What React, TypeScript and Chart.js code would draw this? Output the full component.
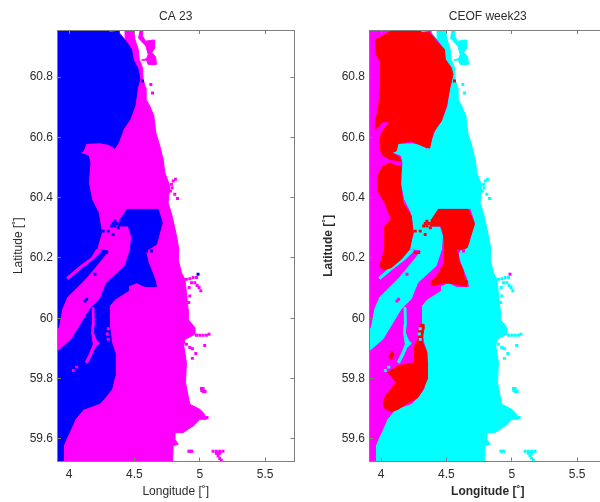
import React, { useEffect, useRef } from "react";
import { Chart, registerables } from "chart.js";

Chart.register(...registerables);

type P = number[];

const xTicks = [4, 4.5, 5, 5.5];
const yTicks = [59.6, 59.8, 60, 60.2, 60.4, 60.6, 60.8];
const lonRange = [3.908, 5.725];
const latRange = [59.525, 60.956];

const coast: P[] = [[3.9,60.96],[4.384,60.96],[4.384,60.947],[4.43,60.923],[4.428,60.96],[4.491,60.96],[4.504,60.925],[4.529,60.892],[4.537,60.859],[4.562,60.831],[4.567,60.792],[4.585,60.765],[4.588,60.726],[4.618,60.704],[4.649,60.671],[4.664,60.615],[4.695,60.571],[4.72,60.527],[4.733,60.483],[4.771,60.439],[4.758,60.383],[4.789,60.339],[4.822,60.273],[4.84,60.229],[4.835,60.196],[4.86,60.151],[4.886,60.129],[4.898,60.085],[4.911,60.03],[4.911,59.997],[4.962,59.969],[4.962,59.947],[4.886,59.93],[4.878,59.908],[4.898,59.853],[4.891,59.787],[4.911,59.743],[4.924,59.715],[5,59.698],[5.031,59.685],[5.051,59.665],[5,59.665],[4.949,59.643],[4.873,59.621],[4.809,59.621],[4.809,59.599],[4.835,59.582],[4.797,59.577],[4.791,59.52],[3.9,59.52]];
const northIslands: P[] = [[4.542,60.96],[4.567,60.96],[4.562,60.936],[4.585,60.919],[4.652,60.923],[4.652,60.894],[4.634,60.881],[4.662,60.867],[4.669,60.842],[4.606,60.842],[4.593,60.856],[4.555,60.856],[4.593,60.861],[4.606,60.875],[4.588,60.903],[4.555,60.919],[4.529,60.93]];
const classNorth: P[] = [[3.9,60.96],[4.3,60.96],[4.308,60.947],[4.351,60.95],[4.377,60.96],[4.384,60.944],[4.435,60.919],[4.478,60.892],[4.491,60.859],[4.529,60.825],[4.542,60.792],[4.524,60.765],[4.504,60.704],[4.466,60.66],[4.415,60.627],[4.377,60.582],[4.351,60.564],[4.3,60.577],[4.237,60.582],[4.13,60.58],[4.109,60.555],[4.084,60.549],[4.148,60.538],[4.16,60.516],[4.148,60.45],[4.173,60.394],[4.224,60.35],[4.249,60.284],[4.211,60.229],[4.3,60.223],[4.186,60.162],[4.122,60.129],[3.982,60.069],[3.944,60.03],[3.919,59.969],[3.9,59.96]];
const classSouth: P[] = [[4.44,60.361],[4.682,60.361],[4.713,60.317],[4.669,60.245],[4.585,60.223],[4.606,60.185],[4.657,60.129],[4.669,60.105],[4.58,60.105],[4.517,60.118],[4.453,60.107],[4.453,60.091],[4.351,60.063],[4.308,60.041],[4.308,59.98],[4.326,59.919],[4.351,59.886],[4.351,59.848],[4.351,59.809],[4.326,59.765],[4.288,59.743],[4.237,59.718],[4.109,59.698],[4.046,59.665],[4.008,59.627],[3.982,59.604],[3.957,59.577],[3.957,59.52],[3.9,59.52],[3.9,59.892],[3.919,59.892],[4.02,59.93],[4.084,59.975],[4.16,60.03],[4.237,60.063],[4.288,60.118],[4.428,60.173],[4.471,60.229],[4.478,60.273],[4.453,60.306],[4.377,60.306],[4.389,60.328]];
const diagonalStrip: P[] = [[4.237,60.229],[4.249,60.223],[4.186,60.196],[4.084,60.162],[3.995,60.129],[3.982,60.135],[4.084,60.173],[4.173,60.201],[4.211,60.229]];
const thinStrip: P[] = [[4.173,60.035],[4.191,60.035],[4.193,59.98],[4.186,59.952],[4.211,59.925],[4.232,59.917],[4.198,59.903],[4.165,59.87],[4.14,59.851],[4.125,59.855],[4.155,59.881],[4.186,59.914],[4.173,59.952],[4.176,59.98]];
const landSpecks: P[] = [[4.626,60.775],[4.639,60.747],[4.797,60.455],[4.814,60.461],[4.784,60.444],[4.776,60.422],[4.809,60.411],[4.83,60.397],[4.789,60.433],[4.898,60.129],[4.924,60.131],[4.949,60.135],[4.975,60.135],[4.937,60.118],[4.962,60.118],[4.98,60.109],[4.995,60.102],[5.008,60.091],[4.919,60.102],[4.924,60.074],[4.916,60.052],[4.975,59.944],[5,59.944],[5.026,59.944],[5.051,59.944],[5.071,59.947],[4.924,59.903],[4.944,59.899],[4.898,59.914],[4.97,59.883],[4.944,59.867],[5.038,59.91],[5.013,59.767],[5.026,59.767],[5.016,59.76],[5.028,59.757],[5.041,59.757],[4.917,59.559],[4.928,59.559],[4.94,59.559],[5.102,59.559],[5.127,59.559],[5.153,59.559],[5.178,59.559],[5.127,59.552],[5.14,59.552],[5.153,59.552],[5.14,59.544],[5.153,59.535],[5.165,59.529],[5.056,59.671],[4.033,59.827],[4.059,59.838],[4.3,59.965],[4.293,59.948],[4.3,59.93]];
const bayFlecks: P[] = [[4.351,60.322],[4.338,60.314],[4.364,60.314],[4.326,60.306],[4.351,60.306],[4.377,60.3],[4.262,60.289],[4.3,60.289],[4.338,60.278],[4.262,60.218],[4.288,60.218],[4.562,60.787]];
const seaFlecks: P[] = [[4.199,60.146],[4.135,60.063],[4.122,60.057],[4.593,60.223],[4.631,60.223],[4.987,60.146]];
const redNorth: P[] = [[4.104,60.96],[4.295,60.96],[4.308,60.947],[4.372,60.947],[4.422,60.919],[4.486,60.892],[4.491,60.859],[4.537,60.831],[4.55,60.809],[4.524,60.759],[4.499,60.704],[4.461,60.654],[4.397,60.615],[4.372,60.564],[4.321,60.571],[4.232,60.588],[4.13,60.58],[4.117,60.555],[4.079,60.549],[4.143,60.533],[4.155,60.516],[4.15,60.439],[4.168,60.383],[4.232,60.339],[4.244,60.284],[4.219,60.229],[4.155,60.196],[4.079,60.168],[4.015,60.16],[3.99,60.173],[4.028,60.229],[4.028,60.306],[4.079,60.328],[4.028,60.383],[3.977,60.422],[3.972,60.472],[4.015,60.505],[4.079,60.516],[4.066,60.527],[4.003,60.544],[3.99,60.582],[4.003,60.615],[4.066,60.652],[4.015,60.652],[3.957,60.627],[3.957,60.649],[3.982,60.704],[3.997,60.77],[3.997,60.848],[3.964,60.875],[3.957,60.925]];
const westGap: P[] = [[4.06,60.524],[4.155,60.518],[4.155,60.508],[4.09,60.512]];
const redBay: P[] = [[4.435,60.361],[4.664,60.361],[4.702,60.328],[4.715,60.312],[4.677,60.262],[4.659,60.234],[4.583,60.223],[4.588,60.196],[4.626,60.162],[4.639,60.129],[4.664,60.123],[4.652,60.105],[4.588,60.113],[4.486,60.118],[4.384,60.107],[4.384,60.123],[4.422,60.135],[4.486,60.185],[4.486,60.229],[4.481,60.273],[4.461,60.306],[4.379,60.306],[4.384,60.328]];
const redSouth: P[] = [[4.295,59.98],[4.326,59.98],[4.328,59.964],[4.313,59.925],[4.346,59.892],[4.354,59.853],[4.354,59.798],[4.321,59.765],[4.282,59.737],[4.206,59.72],[4.13,59.698],[4.079,59.69],[4.028,59.701],[4.015,59.72],[4.041,59.748],[4.117,59.787],[4.053,59.82],[4.13,59.842],[4.257,59.853],[4.257,59.908],[4.282,59.93],[4.288,59.964]];
const redBlob: P[] = [[4.059,59.87],[4.084,59.892],[4.099,59.881],[4.079,59.862]];

const poly = (label: string, pts: P[], color: string) => ({
  label, data: pts.map(([x, y]) => ({ x, y })), showLine: true, fill: "shape", tension: 0,
  backgroundColor: color, borderColor: color, borderWidth: 1, pointRadius: 0,
});
const specks = (label: string, pts: P[], color: string) => ({
  label, data: pts.map(([x, y]) => ({ x, y })), showLine: false, pointStyle: "rect",
  backgroundColor: color, borderColor: color, borderWidth: 0, pointRadius: 2.1,
});
const ordered = (list: any[]) => list.map((d, i) => ({ ...d, order: list.length - i }));

const TEXT = "#2b2b2b";
const LINE = "#7f7f7f";
const FONT = "'Liberation Sans', Arial, sans-serif";

function makeOptions(title: string, boldAxis: boolean, yTitlePad: number): any {
  const axisFont = { family: FONT, size: 12, weight: boldAxis ? "bold" : "normal" };
  const tickFont = { family: FONT, size: 12 };
  const fmt = (v: any) => String(Math.round(Number(v) * 10) / 10);
  const grid = { drawOnChartArea: false, drawTicks: true, tickLength: -4, color: LINE, z: 1 };
  const border = { color: LINE, z: 1, width: 1 };
  const setX = (s: any) => { s.ticks = xTicks.map((value) => ({ value })); };
  const setY = (s: any) => { s.ticks = yTicks.map((value) => ({ value })); };
  return {
    responsive: false, animation: false, devicePixelRatio: 1,
    layout: { padding: { left: 0, right: 5.5, top: 30, bottom: 0 } },
    plugins: { legend: { display: false }, tooltip: { enabled: false } },
    scales: {
      x: {
        type: "linear", position: "bottom", min: lonRange[0], max: lonRange[1], afterBuildTicks: setX,
        afterFit: (s: any) => { s.height = 40.5; },
        grid, border,
        ticks: { color: TEXT, font: tickFont, maxRotation: 0, padding: 10, callback: fmt, autoSkip: false },
        title: { display: true, text: "Longitude [˚]", color: TEXT, font: axisFont, padding: { top: 0, bottom: 3 } },
      },
      y: {
        type: "linear", position: "left", min: latRange[0], max: latRange[1], afterBuildTicks: setY,
        afterFit: (s: any) => { s.width = 57; },
        grid, border,
        ticks: { color: TEXT, font: tickFont, padding: 8, callback: fmt, autoSkip: false },
        title: { display: true, text: "Latitude [˚]", color: TEXT, font: axisFont, padding: { top: yTitlePad, bottom: 0 } },
      },
      x2: {
        type: "linear", position: "top", min: lonRange[0], max: lonRange[1], afterBuildTicks: setX,
        afterFit: (s: any) => { s.height = 0; },
        grid, border, ticks: { display: false },
        title: { display: true, text: title, color: TEXT, font: { family: FONT, size: 12, weight: "normal" }, padding: { top: -21, bottom: 0 } },
      },
      y2: {
        type: "linear", position: "right", min: latRange[0], max: latRange[1], afterBuildTicks: setY,
        afterFit: (s: any) => { s.width = 0; },
        grid, border, ticks: { display: false },
      },
    },
  };
}

export default function App() {
  const leftRef = useRef<HTMLCanvasElement>(null);
  const rightRef = useRef<HTMLCanvasElement>(null);

  useEffect(() => {
    const M = "#ff00ff", B = "#0000ff", C = "#00ffff", R = "#ff0000";
    const left = new Chart(leftRef.current!, {
      type: "scatter",
      data: {
        datasets: ordered([
          poly("land", coast, M), poly("islands", northIslands, M),
          poly("class north", classNorth, B), poly("class south", classSouth, B),
          poly("strip", diagonalStrip, M), poly("thin strip", thinStrip, M),
          specks("land specks", landSpecks, M), specks("bay", bayFlecks, B), specks("sea", seaFlecks, B),
        ]),
      },
      options: makeOptions("CA 23", false, 11),
    } as any);
    const right = new Chart(rightRef.current!, {
      type: "scatter",
      data: {
        datasets: ordered([
          poly("land", coast, C), poly("islands", northIslands, C),
          poly("class north", classNorth, M), poly("class south", classSouth, M),
          poly("strip", diagonalStrip, C), poly("thin strip", thinStrip, C),
          poly("red north", redNorth, R), poly("gap", westGap, M),
          poly("red bay", redBay, R), poly("red south", redSouth, R), poly("red blob", redBlob, R),
          specks("land specks", landSpecks, C), specks("bay", bayFlecks, R), specks("sea", seaFlecks, M),
        ]),
      },
      options: makeOptions("CEOF week23", true, 9),
    } as any);
    return () => { left.destroy(); right.destroy(); };
  }, []);

  return (
    <div style={{ position: "fixed", left: 0, top: 0, width: 600, height: 502, overflow: "hidden", background: "#fff" }}>
      <canvas ref={leftRef} width={300} height={502} style={{ position: "absolute", left: 0, top: 0 }} />
      <canvas ref={rightRef} width={300} height={502} style={{ position: "absolute", left: 312, top: 0 }} />
    </div>
  );
}
